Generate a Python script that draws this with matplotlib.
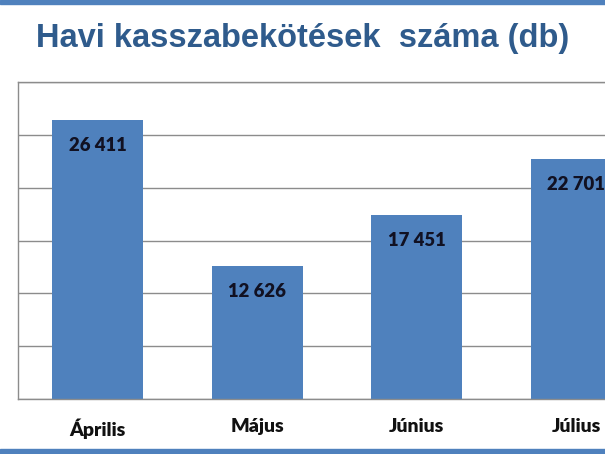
import matplotlib.pyplot as plt
from matplotlib.patches import Rectangle

months = ['Április', 'Május', 'Június', 'Július']
counts = [26411, 12626, 17451, 22701]
labels = ['26 411', '12 626', '17 451', '22 701']

blue = '#4F81BD'
W, H = 605, 454

fig = plt.figure(figsize=(W / 100, H / 100), dpi=100)
fig.patch.set_facecolor('white')

# plot area runs past the right edge of the picture (cropped slide)
left, top, bottom = 18, 82, 399
right = 18 + 4 * 159.5
ax = fig.add_axes([left / W, 1 - bottom / H, (right - left) / W, (bottom - top) / H])

x = range(len(months))
ax.bar(x, counts, width=0.57, color=blue, zorder=2)
ax.set_xlim(-0.5, 3.5)
ax.set_ylim(0, 30000)
ax.set_yticks(range(0, 30001, 5000))
ax.yaxis.grid(True, color='#8c8c8c', linewidth=1)
ax.set_axisbelow(True)
ax.tick_params(axis='y', length=0, labelleft=False)
ax.tick_params(axis='x', length=0, pad=14)
ax.set_xticks(list(x))
ax.set_xticklabels(months, fontfamily='Lato', fontweight='heavy', fontsize=14, color='#111111')
for s in ax.spines.values():
    s.set_color('#8c8c8c')
    s.set_linewidth(1)

for i, (v, t) in enumerate(zip(counts, labels)):
    ax.annotate(t, (i, v), xytext=(0, -18.5), textcoords='offset points',
                ha='center', va='center', fontfamily='Lato', fontweight='heavy',
                fontsize=13.3, color='#111122')

fig.text(303 / W, 1 - 38 / H, 'Havi kasszabekötések  száma (db)', ha='center', va='center',
         fontfamily='Liberation Sans', fontweight='bold', fontsize=23.5, color='#2F5B8C')

# slide bands top and bottom
fig.patches.append(Rectangle((0, 1 - 3.5 / H), 1, 3.5 / H, transform=fig.transFigure,
                             color=blue, zorder=5))
fig.patches.append(Rectangle((0, 0), 1, 5 / H, transform=fig.transFigure,
                             color=blue, zorder=5))

fig.savefig('out.png', dpi=100)
